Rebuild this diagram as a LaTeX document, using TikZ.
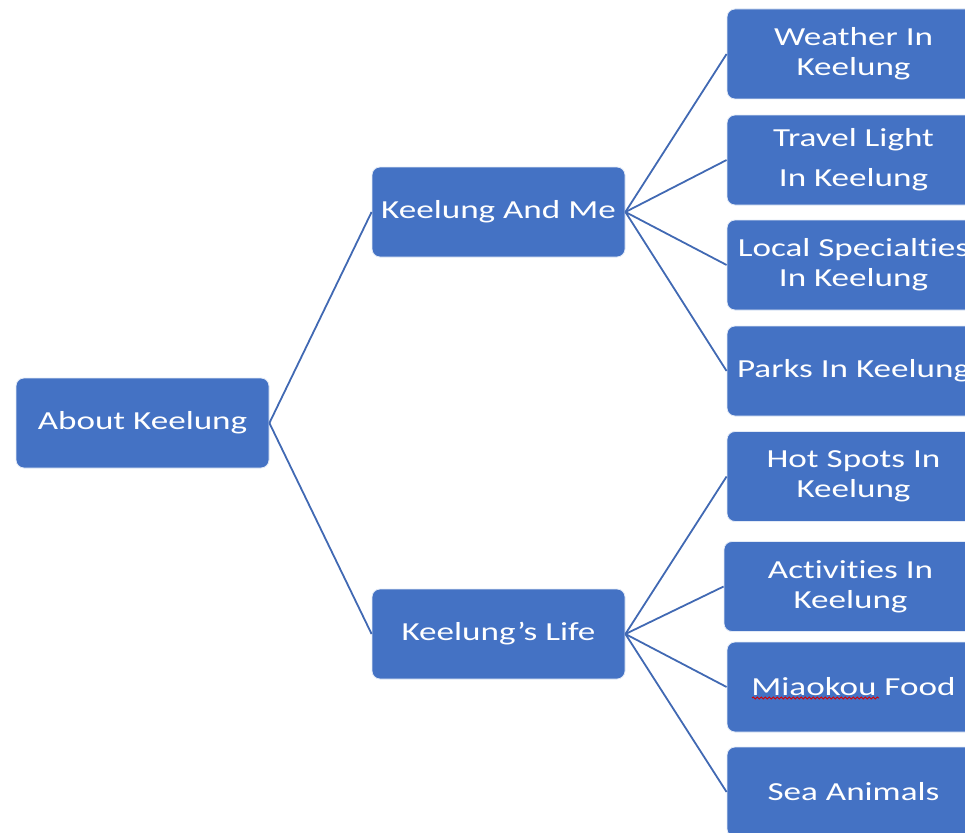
\documentclass[tikz,border=0pt]{standalone}
\usepackage{fontspec}
\setmainfont[FakeStretch=1.35, Ligatures={NoCommon}]{Carlito}
\usetikzlibrary{decorations.pathmorphing}
\definecolor{boxblue}{HTML}{4472C4}
\definecolor{lineblue}{HTML}{4169B3}

\begin{document}
\begin{tikzpicture}[x=1pt, y=-1pt,
        topic/.style={draw=white!85!boxblue, line width=0.8pt, fill=boxblue,
            rounded corners=8pt, minimum width=253pt, minimum height=90pt,
            inner sep=0pt, text=white, align=center,
            font=\fontsize{26}{30}\selectfont},
        link/.style={draw=lineblue, line width=1.8pt}]
            \useasboundingbox (0,0) rectangle (965,832);
            \clip (0,0) rectangle (965,832);

            % Boxes
            \node[topic] (about) at (142.5,423) {About Keelung};
            \node[topic] (me)    at (498.5,212) {Keelung And Me};
            \node[topic] (life)  at (498.5,634) {Keelung’s Life};

            \node[topic] (weather) at (853.5,54)    {Weather In\\Keelung};
            \node[topic] (travel)  at (853.5,160)   {Travel Light\\[10pt]In Keelung};
            \node[topic] (local)   at (853.5,265)   {Local Specialties\\In Keelung};
            \node[topic] (parks)   at (853.5,371)   {Parks In Keelung};
            \node[topic] (hot)     at (853.5,476.5) {Hot Spots In\\Keelung};
            \node[topic] (act)     at (850.5,586.5) {Activities In\\Keelung};
            \node[topic] (food)    at (853.5,687)   {Miaokou Food};
            \node[topic] (sea)     at (853.5,792)   {Sea Animals};

            % Spell check mark
            \draw[red!85!black, line width=0.9pt,
                decorate, decoration={snake, segment length=4pt, amplitude=1pt}]
                (752,698) -- (879,698);

            % Lines
            \draw[link] (about.east) -- (me.west);
            \draw[link] (about.east) -- (life.west);
            \foreach \leaf in {weather, travel, local, parks}
                \draw[link] (me.east) -- (\leaf.west);
            \foreach \leaf in {hot, act, food, sea}
                \draw[link] (life.east) -- (\leaf.west);
        \end{tikzpicture}
\end{document}
